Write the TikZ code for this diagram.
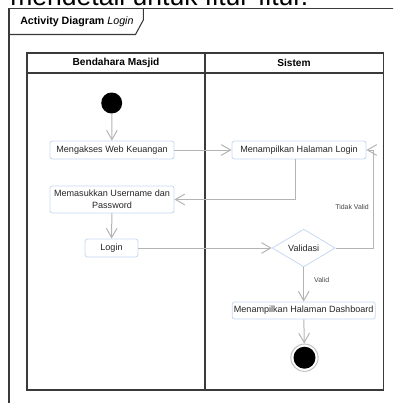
\documentclass[tikz,border=0pt]{standalone}
\usepackage{fontspec}
\setmainfont{Liberation Sans}
\usetikzlibrary{arrows.meta,shapes.geometric}

\definecolor{frameline}{HTML}{3A3A3A}
\definecolor{flowline}{HTML}{B4B4B4}
\definecolor{actborder}{HTML}{C8D8F2}
\definecolor{guardtext}{HTML}{444444}

\begin{document}
\begin{tikzpicture}[x=0.75pt,y=-0.75pt,
  frame/.style={draw=frameline, line width=0.8pt},
  act/.style={draw=actborder, line width=0.6pt, rounded corners=1.8pt, fill=white,
    inner sep=1pt, align=center, font=\fontsize{6.8}{8.8}\selectfont, text=black!85},
  decision/.style={diamond, draw=actborder, line width=0.6pt, fill=white, inner sep=0pt,
    minimum width=47.25pt, minimum height=27pt, font=\fontsize{6.8}{8.8}\selectfont, text=black!85},
  flow/.style={draw=flowline, line width=0.75pt, -{Straight Barb[length=7pt,width=8pt]}},
  guard/.style={font=\fontsize{5.2}{6}\selectfont, text=guardtext, inner sep=0pt},
  lanehead/.style={font=\bfseries\fontsize{7.6}{9}\selectfont},
  initial/.style={circle, fill=black, minimum size=15.75pt, inner sep=0pt},
  final/.style={circle, draw=flowline!80, line width=0.75pt, fill=white, minimum size=20.5pt, inner sep=0pt},
  finaldot/.style={circle, fill=black, minimum size=16.5pt, inner sep=0pt}
]
\useasboundingbox (0,0) rectangle (393,403);
\clip (0,0) rectangle (393,403);

% running text of the page above the figure
\node[anchor=base west, inner sep=0pt] (pagetext) at (10,5.5)
  {\resizebox{223.5pt}{!}{mendetail untuk fitur-fitur.}};

% outer diagram frame and its title tab
\draw[frame] (9,410) -- (9,8.5) -- (400,8.5);
\draw[frame] (9,34.5) -- (135.5,34.5) -- (143.3,20) -- (143.3,8.5);
\node[anchor=west, inner sep=0pt, font=\fontsize{8}{9.5}\selectfont] (title) at (20,21.5)
  {\textbf{Activity Diagram} \textit{Login}};

% swimlanes
\draw[frame, line width=0.9pt] (27,53) rectangle (383.3,390);
\draw[frame] (27,73) -- (383.3,73);
\draw[frame] (205,53) -- (205,390);
\node[lanehead] (laneA) at (116,63) {Bendahara Masjid};
\node[lanehead] (laneB) at (294,63) {Sistem};

% activities
\node[initial] (start) at (111.7,103) {};
\node[act, minimum width=93pt, minimum height=13.5pt] (akses) at (112,150) {Mengakses Web Keuangan};
\node[act, minimum width=93pt, minimum height=20.25pt] (input) at (112,199.5) {Memasukkan Username dan\\Password};
\node[act, minimum width=39.75pt, minimum height=13.5pt] (login) at (111.5,248) {Login};
\node[act, minimum width=100.5pt, minimum height=13.5pt] (halaman) at (299,150) {Menampilkan Halaman Login};
\node[decision] (validasi) at (303.7,248) {Validasi};
\node[act, minimum width=107.25pt, minimum height=12.75pt] (dashboard) at (303.7,310.5) {Menampilkan Halaman Dashboard};
\node[final] (end) at (304.5,357.7) {};
\node[finaldot] at (end) {};

\coordinate (retour) at (373.3,248);

% control flow
\draw[flow] (start) -- (akses);
\draw[flow] (akses) -- (halaman);
\draw[flow] ([xshift=-3pt]halaman.south) |- (input.east);
\draw[flow] (input) -- (login);
\draw[flow] (login) -- (validasi);
\draw[flow] (validasi.east) -- (retour) |- (halaman.east)
  node[guard, pos=0.21, anchor=east, xshift=-3pt] (tidak) {Tidak Valid};
\draw[flow] (validasi.south) -- (dashboard.north)
  node[guard, pos=0.36, anchor=west, xshift=7.5pt] (valid) {Valid};
\draw[flow] (dashboard) -- (end);
\end{tikzpicture}
\end{document}
